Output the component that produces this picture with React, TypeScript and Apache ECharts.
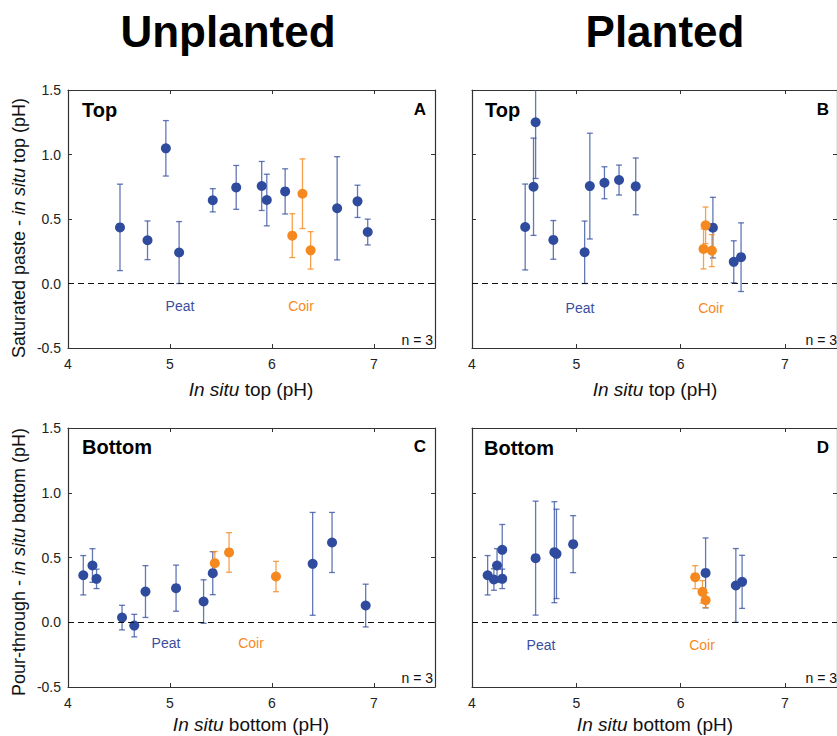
import React, { useEffect, useRef } from "react";
import * as echarts from "echarts";

const BLUE = "#2f4b9e";
const ORANGE = "#f5891f";

// [x (in situ pH), difference (pH), error]
const peatA = [
  [4.51, 0.435, 0.335], [4.78, 0.335, 0.15], [4.96, 1.048, 0.215], [5.09, 0.24, 0.24],
  [5.42, 0.645, 0.09], [5.65, 0.745, 0.17], [5.9, 0.756, 0.19], [5.95, 0.647, 0.2],
  [6.13, 0.714, 0.175], [6.64, 0.583, 0.4], [6.84, 0.637, 0.125], [6.94, 0.399, 0.1],
];
const coirA = [[6.2, 0.371, 0.17], [6.3, 0.696, 0.27], [6.38, 0.257, 0.145]];

const peatB = [
  [4.51, 0.438, 0.333], [4.59, 0.75, 0.377], [4.61, 1.25, 0.436], [4.78, 0.338, 0.15],
  [5.08, 0.242, 0.242], [5.13, 0.755, 0.41], [5.27, 0.781, 0.124], [5.41, 0.802, 0.116],
  [5.57, 0.753, 0.22], [6.31, 0.433, 0.235], [6.51, 0.168, 0.163], [6.58, 0.204, 0.266],
];
const coirB = [[6.24, 0.451, 0.142], [6.22, 0.268, 0.155], [6.3, 0.255, 0.124]];

const peatC = [
  [4.15, 0.363, 0.152], [4.24, 0.438, 0.13], [4.28, 0.335, 0.075], [4.53, 0.036, 0.095],
  [4.65, -0.026, 0.087], [4.76, 0.237, 0.2], [5.06, 0.263, 0.178], [5.33, 0.16, 0.168],
  [5.42, 0.379, 0.166], [6.4, 0.451, 0.397], [6.59, 0.616, 0.232], [6.92, 0.129, 0.165],
];
const coirC = [[5.44, 0.456, 0.09], [5.58, 0.539, 0.153], [6.04, 0.353, 0.117]];

const peatD = [
  [4.15, 0.363, 0.152], [4.21, 0.33, 0.083], [4.24, 0.438, 0.13], [4.29, 0.335, 0.075],
  [4.29, 0.559, 0.196], [4.61, 0.495, 0.44], [4.79, 0.541, 0.39], [4.81, 0.528, 0.345],
  [4.97, 0.603, 0.22], [6.24, 0.381, 0.27], [6.53, 0.284, 0.285], [6.59, 0.312, 0.205],
];
const coirD = [[6.14, 0.348, 0.089], [6.21, 0.235, 0.087], [6.24, 0.17, 0.057]];

const xTicks = [4, 5, 6, 7];
const yTicks = [-0.5, 0, 0.5, 1.0, 1.5];
const xMaxes = [7.6, 7.5, 7.6, 7.5];

const FONT = "Liberation Sans, Arial, sans-serif";

const panels = [
  { peat: peatA, coir: coirA, left: 68, top: 90, height: 258, label: "A", pos: "Top", yLabels: true },
  { peat: peatB, coir: coirB, left: 472, top: 90, height: 258, label: "B", pos: "Top", yLabels: false },
  { peat: peatC, coir: coirC, left: 68, top: 428, height: 259, label: "C", pos: "Bottom", yLabels: true },
  { peat: peatD, coir: coirD, left: 472, top: 428, height: 259, label: "D", pos: "Bottom", yLabels: false },
];

function errRender(color: string, opacity: number) {
  return (params: any, api: any) => {
    const x = api.value(0);
    const lo = api.coord([x, api.value(1)]);
    const hi = api.coord([x, api.value(2)]);
    const w = 3;
    const st = { stroke: color, lineWidth: 1.3, opacity };
    return {
      type: "group",
      children: [
        { type: "line", shape: { x1: lo[0], y1: lo[1], x2: hi[0], y2: hi[1] }, style: st },
        { type: "line", shape: { x1: lo[0] - w, y1: lo[1], x2: lo[0] + w, y2: lo[1] }, style: st },
        { type: "line", shape: { x1: hi[0] - w, y1: hi[1], x2: hi[0] + w, y2: hi[1] }, style: st },
      ],
    };
  };
}

export default function App() {
  const ref = useRef<HTMLDivElement>(null);
  useEffect(() => {
    if (!ref.current) return;
    const chart = echarts.init(ref.current, undefined, { renderer: "svg" });
    const grid: any[] = [];
    const xAxis: any[] = [];
    const yAxis: any[] = [];
    const series: any[] = [];
    const axisLine = { show: true, onZero: false, lineStyle: { color: "#333", width: 1.2 } };
    const axisTick = { show: true, inside: true, length: 4, lineStyle: { color: "#333", width: 1 } };
    panels.forEach((p, i) => {
      grid.push({ left: p.left, top: p.top, width: 367, height: p.height, containLabel: false });
      const xBase = {
        gridIndex: i, type: "value", min: xTicks[0], max: xMaxes[i], interval: 1,
        axisLine, axisTick, splitLine: { show: false },
      };
      xAxis.push({
        ...xBase, position: "bottom",
        axisLabel: {
          show: true, fontSize: 14, color: "#222", fontFamily: FONT, margin: 9,
          showMaxLabel: false,
          formatter: (v: number) => (xTicks.indexOf(v) >= 0 ? String(v) : ""),
        },
      });
      xAxis.push({ ...xBase, position: "top", axisLabel: { show: false } });
      const yBase = {
        gridIndex: i, type: "value", min: yTicks[0], max: yTicks[yTicks.length - 1], interval: 0.5,
        axisLine, axisTick, splitLine: { show: false },
      };
      yAxis.push({
        ...yBase, position: "left",
        axisLabel: {
          show: p.yLabels, fontSize: 14, color: "#222", fontFamily: FONT, margin: 7,
          formatter: (v: number) => v.toFixed(1),
        },
      });
      yAxis.push({ ...yBase, position: "right", axisLabel: { show: false } });

      const xi = i * 2;
      const yi = i * 2;
      series.push({
        type: "line", xAxisIndex: xi, yAxisIndex: yi, data: [], silent: true,
        markLine: {
          silent: true, symbol: "none", label: { show: false },
          lineStyle: { color: "#111", type: [6, 4], width: 1 },
          data: [{ yAxis: 0 }],
        },
      });
      [
        { d: p.peat, c: BLUE, op: 0.75 },
        { d: p.coir, c: ORANGE, op: 0.8 },
      ].forEach((g) => {
        series.push({
          type: "custom", xAxisIndex: xi, yAxisIndex: yi, clip: true, silent: true,
          renderItem: errRender(g.c, g.op),
          data: g.d.map((r) => [r[0], r[1] - r[2], r[1] + r[2]]),
          z: 2,
        });
        series.push({
          type: "scatter", xAxisIndex: xi, yAxisIndex: yi, symbolSize: 10, silent: true,
          itemStyle: { color: g.c, opacity: 1 },
          data: g.d.map((r) => [r[0], r[1]]),
          z: 3,
        });
      });
    });

    const txt = (text: string, x: number, y: number, opts: any = {}) => ({
      type: "text", x, y, rotation: opts.rotation || 0, silent: true,
      style: {
        text, fill: opts.fill || "#000", font: opts.font,
        align: opts.align || "center", verticalAlign: "middle", rich: opts.rich,
      },
    });
    const bold = (s: number) => `bold ${s}px ${FONT}`;
    const norm = (s: number) => `${s}px ${FONT}`;
    const italicRich = { i: { fontStyle: "italic", fontSize: 19, fontFamily: FONT, fill: "#111" }, n: { fontSize: 19, fontFamily: FONT, fill: "#111" } };
    const italicRichY = { i: { fontStyle: "italic", fontSize: 18, fontFamily: FONT, fill: "#111" }, n: { fontSize: 18, fontFamily: FONT, fill: "#111" } };

    const graphic: any[] = [
      txt("Unplanted", 228, 31, { font: bold(44) }),
      txt("Planted", 665, 31, { font: bold(44) }),
      txt("{n|Saturated paste - }{i|in situ}{n| top (pH)}", 19, 228, { rotation: Math.PI / 2, font: norm(18), rich: italicRichY }),
      txt("{n|Pour-through - }{i|in situ}{n| bottom (pH)}", 19, 562, { rotation: Math.PI / 2, font: norm(18), rich: italicRichY }),
      txt("{i|In situ}{n| top (pH)}", 251, 389, { font: norm(19), rich: italicRich }),
      txt("{i|In situ}{n| top (pH)}", 655, 389, { font: norm(19), rich: italicRich }),
      txt("{i|In situ}{n| bottom (pH)}", 251, 724, { font: norm(19), rich: italicRich }),
      txt("{i|In situ}{n| bottom (pH)}", 655, 724, { font: norm(19), rich: italicRich }),
    ];
    const labelPos = [
      { px: 82, py: 110, lx: 426, ly: 109, peat: [180, 306], coir: [301, 306], n: [433, 340] },
      { px: 485, py: 110, lx: 829, ly: 109, peat: [580, 308], coir: [711, 308], n: [837, 340] },
      { px: 82, py: 447, lx: 426, ly: 446, peat: [166, 643], coir: [251, 643], n: [433, 678] },
      { px: 484, py: 448, lx: 829, ly: 447, peat: [541, 645], coir: [702, 645], n: [837, 678] },
    ];
    panels.forEach((p, i) => {
      const l = labelPos[i];
      graphic.push(txt(p.pos, l.px, l.py, { font: bold(20), align: "left" }));
      graphic.push(txt(p.label, l.lx, l.ly, { font: bold(17), align: "right" }));
      graphic.push(txt("Peat", l.peat[0], l.peat[1], { font: norm(14), fill: "#3a4ea0" }));
      graphic.push(txt("Coir", l.coir[0], l.coir[1], { font: norm(14), fill: ORANGE }));
      graphic.push(txt("n = 3", l.n[0], l.n[1], { font: norm(14), align: "right", fill: "#111" }));
    });

    chart.setOption({
      animation: false,
      backgroundColor: "#fff",
      textStyle: { fontFamily: FONT },
      grid, xAxis, yAxis, series, graphic,
    });
    return () => chart.dispose();
  }, []);
  return (
    <div
      ref={ref}
      style={{ position: "absolute", left: 0, top: 0, width: 837, height: 736 }}
    />
  );
}
